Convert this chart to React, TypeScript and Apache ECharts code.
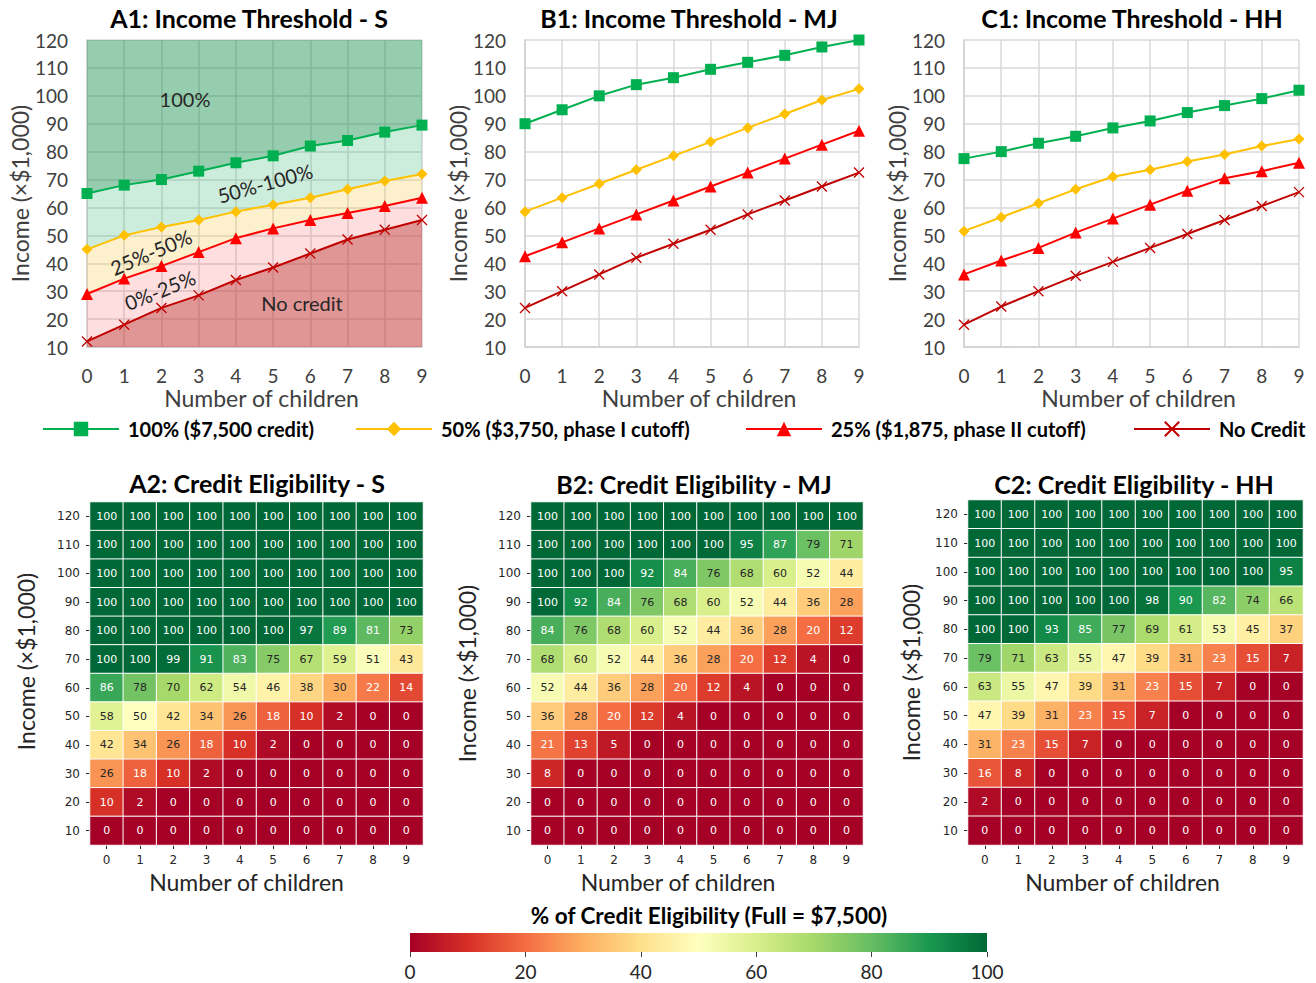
import React, { useEffect, useRef } from "react";
import * as echarts from "echarts";

// ---------- data ----------
const CHILDREN = [0, 1, 2, 3, 4, 5, 6, 7, 8, 9];
const INCOME_LEVELS = ["10", "20", "30", "40", "50", "60", "70", "80", "90", "100", "110", "120"];

// Income thresholds (×$1,000) by number of children — Single filers
const S_FULL = [65, 68, 70, 73, 76, 78.5, 82, 84, 87, 89.5];
const S_HALF = [45, 50, 53, 55.5, 58.5, 61, 63.5, 66.5, 69.5, 72];
const S_QUARTER = [29, 34.5, 39, 44, 49, 52.5, 55.5, 58, 60.5, 63.5];
const S_NONE = [12, 18, 24, 28.5, 34, 38.5, 43.5, 48.5, 52, 55.5];

// Married filing jointly
const MJ_FULL = [90, 95, 100, 104, 106.5, 109.5, 112, 114.5, 117.5, 120];
const MJ_HALF = [58.5, 63.5, 68.5, 73.5, 78.5, 83.5, 88.5, 93.5, 98.5, 102.5];
const MJ_QUARTER = [42.5, 47.5, 52.5, 57.5, 62.5, 67.5, 72.5, 77.5, 82.5, 87.5];
const MJ_NONE = [24, 30, 36, 42, 47, 52, 57.5, 62.5, 67.5, 72.5];

// Head of household
const HH_FULL = [77.5, 80, 83, 85.5, 88.5, 91, 94, 96.5, 99, 102];
const HH_HALF = [51.5, 56.5, 61.5, 66.5, 71, 73.5, 76.5, 79, 82, 84.5];
const HH_QUARTER = [36, 41, 45.5, 51, 56, 61, 66, 70.5, 73, 76];
const HH_NONE = [18, 24.5, 30, 35.5, 40.5, 45.5, 50.5, 55.5, 60.5, 65.5];

// Credit eligibility (%) — rows listed from income 120 down to 10
const S_ELIG = [
  [100, 100, 100, 100, 100, 100, 100, 100, 100, 100],
  [100, 100, 100, 100, 100, 100, 100, 100, 100, 100],
  [100, 100, 100, 100, 100, 100, 100, 100, 100, 100],
  [100, 100, 100, 100, 100, 100, 100, 100, 100, 100],
  [100, 100, 100, 100, 100, 100, 97, 89, 81, 73],
  [100, 100, 99, 91, 83, 75, 67, 59, 51, 43],
  [86, 78, 70, 62, 54, 46, 38, 30, 22, 14],
  [58, 50, 42, 34, 26, 18, 10, 2, 0, 0],
  [42, 34, 26, 18, 10, 2, 0, 0, 0, 0],
  [26, 18, 10, 2, 0, 0, 0, 0, 0, 0],
  [10, 2, 0, 0, 0, 0, 0, 0, 0, 0],
  [0, 0, 0, 0, 0, 0, 0, 0, 0, 0],
];
const MJ_ELIG = [
  [100, 100, 100, 100, 100, 100, 100, 100, 100, 100],
  [100, 100, 100, 100, 100, 100, 95, 87, 79, 71],
  [100, 100, 100, 92, 84, 76, 68, 60, 52, 44],
  [100, 92, 84, 76, 68, 60, 52, 44, 36, 28],
  [84, 76, 68, 60, 52, 44, 36, 28, 20, 12],
  [68, 60, 52, 44, 36, 28, 20, 12, 4, 0],
  [52, 44, 36, 28, 20, 12, 4, 0, 0, 0],
  [36, 28, 20, 12, 4, 0, 0, 0, 0, 0],
  [21, 13, 5, 0, 0, 0, 0, 0, 0, 0],
  [8, 0, 0, 0, 0, 0, 0, 0, 0, 0],
  [0, 0, 0, 0, 0, 0, 0, 0, 0, 0],
  [0, 0, 0, 0, 0, 0, 0, 0, 0, 0],
];
const HH_ELIG = [
  [100, 100, 100, 100, 100, 100, 100, 100, 100, 100],
  [100, 100, 100, 100, 100, 100, 100, 100, 100, 100],
  [100, 100, 100, 100, 100, 100, 100, 100, 100, 95],
  [100, 100, 100, 100, 100, 98, 90, 82, 74, 66],
  [100, 100, 93, 85, 77, 69, 61, 53, 45, 37],
  [79, 71, 63, 55, 47, 39, 31, 23, 15, 7],
  [63, 55, 47, 39, 31, 23, 15, 7, 0, 0],
  [47, 39, 31, 23, 15, 7, 0, 0, 0, 0],
  [31, 23, 15, 7, 0, 0, 0, 0, 0, 0],
  [16, 8, 0, 0, 0, 0, 0, 0, 0, 0],
  [2, 0, 0, 0, 0, 0, 0, 0, 0, 0],
  [0, 0, 0, 0, 0, 0, 0, 0, 0, 0],
];

const LEGEND_NAMES = [
  "100% ($7,500 credit)",
  "50% ($3,750, phase I cutoff)",
  "25% ($1,875, phase II cutoff)",
  "No Credit",
];

// ---------- styling ----------
const FONT = 'Lato, "Open Sans", sans-serif';
const MPL_FONT = '"DejaVu Sans", sans-serif';
const LINE_COLORS = ["#00b050", "#ffc000", "#ff0000", "#c00000"];
const RDYLGN = [
  "#a50026", "#d73027", "#f46d43", "#fdae61", "#fee08b", "#ffffbf",
  "#d9ef8b", "#a6d96a", "#66bd63", "#1a9850", "#006837",
];
const X_MARK = "path://M0,0L10,10M10,0L0,10";

const LINE_GRIDS = [
  { left: 87, top: 40, width: 335, height: 307 },
  { left: 525, top: 40, width: 334, height: 307 },
  { left: 964, top: 40, width: 335, height: 307 },
];
const HEAT_GRIDS = [
  { left: 90, top: 502, width: 333, height: 343 },
  { left: 531, top: 502, width: 332, height: 343 },
  { left: 968, top: 500, width: 335, height: 345 },
];
// per-heatmap axis-name placement tweaks
const HEAT_XNAME_PAD = [[0, 20, 0, 0], [0, 38, 0, 0], [0, 26, 0, 0]];
const HEAT_YNAME_PAD = [[0, 0, 0, 24], [0, 0, 0, 0], [0, 0, 0, 0]];
const HEAT_YNAME_GAP = [53, 53, 46];
const BAR_GRID = { left: 410, top: 933, width: 577, height: 19 };
const LEGEND_LEFT = [42, 355, 745, 1133];

const panels = [
  { title: "A1: Income Threshold - S", heatTitle: "A2: Credit Eligibility - S", lines: [S_FULL, S_HALF, S_QUARTER, S_NONE], elig: S_ELIG },
  { title: "B1: Income Threshold - MJ", heatTitle: "B2: Credit Eligibility - MJ", lines: [MJ_FULL, MJ_HALF, MJ_QUARTER, MJ_NONE], elig: MJ_ELIG },
  { title: "C1: Income Threshold - HH", heatTitle: "C2: Credit Eligibility - HH", lines: [HH_FULL, HH_HALF, HH_QUARTER, HH_NONE], elig: HH_ELIG },
];

function buildOption() {
  const grids: any[] = [];
  const xAxes: any[] = [];
  const yAxes: any[] = [];
  const series: any[] = [];
  const graphics: any[] = [];
  const heatSeriesIdx: number[] = [];

  // threshold line charts
  panels.forEach((p, i) => {
    grids.push({ ...LINE_GRIDS[i] });
    xAxes.push({
      type: "category", gridIndex: i, data: CHILDREN.map(String), boundaryGap: false,
      name: "Number of children", nameLocation: "middle", nameGap: 40,
      nameTextStyle: {
        fontFamily: FONT, fontSize: 23, lineHeight: 22, color: "#404040",
        padding: [0, 0, 0, 14],
      },
      axisLine: { show: true, lineStyle: { color: "#d0d0d0", width: 1.5 } },
      axisTick: { show: false },
      axisLabel: {
        fontFamily: FONT, fontSize: 19, lineHeight: 18, color: "#404040",
        margin: 19, interval: 0,
      },
      splitLine: { show: true, interval: 0, lineStyle: { color: "#d9d9d9", width: 1.5 } },
    });
    yAxes.push({
      type: "value", gridIndex: i, min: 10, max: 120, interval: 10,
      name: "Income (×$1,000)", nameLocation: "middle", nameGap: 52,
      nameTextStyle: { fontFamily: FONT, fontSize: 23, color: "#404040" },
      axisLine: { show: true, lineStyle: { color: "#d0d0d0", width: 1.5 } },
      axisTick: { show: false },
      axisLabel: { fontFamily: FONT, fontSize: 19, color: "#404040", margin: 19 },
      splitLine: { show: true, lineStyle: { color: "#d9d9d9", width: 1.5 } },
    });

    // shaded eligibility bands (single filers only)
    if (i === 0) {
      const [full, half, quarter, none] = p.lines;
      const bands = [
        { vals: none, fill: "rgba(195,45,45,0.5)" },
        { vals: quarter.map((v, k) => v - none[k]), fill: "rgba(249,90,90,0.2)" },
        { vals: half.map((v, k) => v - quarter[k]), fill: "rgba(247,195,55,0.25)" },
        { vals: full.map((v, k) => v - half[k]), fill: "rgba(55,183,115,0.25)" },
        { vals: full.map((v) => 120 - v), fill: "rgba(22,144,77,0.45)" },
      ];
      bands.forEach((b, k) => {
        series.push({
          type: "line", xAxisIndex: i, yAxisIndex: i, stack: "bandsS",
          data: b.vals,
          showSymbol: false, silent: true, z: 1,
          lineStyle: { width: 0, opacity: 0 },
          areaStyle: { color: b.fill, opacity: 1, origin: k === 0 ? "start" : "auto" },
        });
      });
    }

    const symbols = ["rect", "diamond", "triangle", X_MARK];
    const sizes = [11, 11, 12, 10];
    p.lines.forEach((vals, k) => {
      series.push({
        name: LEGEND_NAMES[k], type: "line", xAxisIndex: i, yAxisIndex: i,
        data: vals,
        symbol: symbols[k], symbolSize: sizes[k], z: 5,
        lineStyle: { color: LINE_COLORS[k], width: 2 },
        itemStyle: {
          color: LINE_COLORS[k],
          borderColor: LINE_COLORS[k],
          borderWidth: k === 3 ? 1.3 : 0,
        },
        emphasis: { disabled: true },
      });
    });
  });

  // eligibility heatmaps
  panels.forEach((p, i) => {
    const gi = 3 + i;
    grids.push({ ...HEAT_GRIDS[i] });
    xAxes.push({
      type: "category", gridIndex: gi, data: CHILDREN.map(String),
      name: "Number of children", nameLocation: "middle", nameGap: 26,
      nameTextStyle: {
        fontFamily: FONT, fontSize: 23, lineHeight: 22, color: "#262626",
        padding: HEAT_XNAME_PAD[i],
      },
      axisLine: { show: false },
      axisTick: { show: true, alignWithLabel: true, length: 4, lineStyle: { color: "#262626" } },
      axisLabel: { fontFamily: MPL_FONT, fontSize: 12, lineHeight: 13, color: "#262626", margin: 8 },
      splitLine: { show: false },
    });
    yAxes.push({
      type: "category", gridIndex: gi, data: INCOME_LEVELS,
      name: "Income (×$1,000)", nameLocation: "middle", nameGap: HEAT_YNAME_GAP[i],
      nameTextStyle: { fontFamily: FONT, fontSize: 23, color: "#262626", padding: HEAT_YNAME_PAD[i] },
      axisLine: { show: false },
      axisTick: { show: true, alignWithLabel: true, length: 4, lineStyle: { color: "#262626" } },
      axisLabel: { fontFamily: MPL_FONT, fontSize: 12, color: "#262626", margin: 10 },
      splitLine: { show: false },
    });
    const rows = p.elig;
    const data = rows.flatMap((row, r) =>
      row.map((v, c) => ({
        value: [c, rows.length - 1 - r, v],
        label: { color: v < 25 || v > 80 ? "#ffffff" : "#262626" },
      }))
    );
    heatSeriesIdx.push(series.length);
    series.push({
      type: "heatmap", xAxisIndex: gi, yAxisIndex: gi, data,
      itemStyle: { borderColor: "#ffffff", borderWidth: 1 },
      label: {
        show: true, fontFamily: MPL_FONT, fontSize: 11,
        formatter: (prm: any) => String(prm.value[2]),
      },
      emphasis: { disabled: true },
    });
  });

  // colorbar axis
  grids.push({ ...BAR_GRID });
  xAxes.push({
    type: "value", gridIndex: 6, min: 0, max: 100, interval: 20,
    axisLine: { show: false },
    axisTick: { show: true, length: 5, lineStyle: { color: "#404040" } },
    axisLabel: { fontFamily: FONT, fontSize: 19, color: "#262626", margin: 10 },
    splitLine: { show: false },
  });
  yAxes.push({ type: "value", gridIndex: 6, min: 0, max: 1, show: false });

  graphics.push({
    type: "rect", z: 0,
    shape: { x: BAR_GRID.left, y: BAR_GRID.top, width: BAR_GRID.width, height: BAR_GRID.height },
    style: {
      fill: new echarts.graphic.LinearGradient(0, 0, 1, 0,
        RDYLGN.map((c, k) => ({ offset: k / (RDYLGN.length - 1), color: c }))),
    },
  });

  // titles
  const titleText = (text: string, x: number, y: number, size: number) => ({
    type: "text", x, y,
    style: {
      text, fontFamily: FONT, fontWeight: "bold", fontSize: size, fill: "#000",
      textAlign: "center", textVerticalAlign: "middle",
    },
  });
  graphics.push(titleText(panels[0].title, 249, 18, 25));
  graphics.push(titleText(panels[1].title, 689, 18, 25));
  graphics.push(titleText(panels[2].title, 1132, 18, 25));
  graphics.push(titleText(panels[0].heatTitle, 257, 483, 25));
  graphics.push(titleText(panels[1].heatTitle, 694, 484, 25));
  graphics.push(titleText(panels[2].heatTitle, 1134, 484, 25));
  graphics.push(titleText("% of Credit Eligibility (Full = $7,500)", 709, 915, 22.5));

  // band annotations on the single-filer chart
  const note = (text: string, x: number, y: number, deg: number) => ({
    type: "text", x, y, rotation: (deg * Math.PI) / 180, z: 10,
    style: {
      text, fontFamily: FONT, fontSize: 20, fill: "#262626",
      textAlign: "center", textVerticalAlign: "middle",
    },
  });
  graphics.push(note("100%", 185, 99, 0));
  graphics.push(note("50%-100%", 265, 183, 15.5));
  graphics.push(note("25%-50%", 151, 252, 23));
  graphics.push(note("0%-25%", 160, 290, 22));
  graphics.push(note("No credit", 302, 303, 0));

  const legend = LEGEND_NAMES.map((name, k) => ({
    data: [name], left: LEGEND_LEFT[k], top: 419, padding: 0,
    itemWidth: 76, itemHeight: 18, selectedMode: false,
    textStyle: {
      fontFamily: FONT, fontWeight: "bold", fontSize: 20, color: "#000",
      padding: [0, 0, 0, 4],
    },
  }));

  return {
    animation: false,
    backgroundColor: "#ffffff",
    grid: grids,
    xAxis: xAxes,
    yAxis: yAxes,
    legend,
    visualMap: {
      type: "continuous", show: false, min: 0, max: 100, dimension: 2,
      seriesIndex: heatSeriesIdx, inRange: { color: RDYLGN },
    },
    graphic: graphics,
    series,
  };
}

export default function App() {
  const ref = useRef<HTMLDivElement>(null);
  useEffect(() => {
    if (!ref.current) return;
    const chart = echarts.init(ref.current, null, { renderer: "svg" });
    chart.setOption(buildOption() as any);
    return () => chart.dispose();
  }, []);
  return (
    <div
      ref={ref}
      style={{ position: "fixed", left: 0, top: 0, width: 1316, height: 983 }}
    />
  );
}
